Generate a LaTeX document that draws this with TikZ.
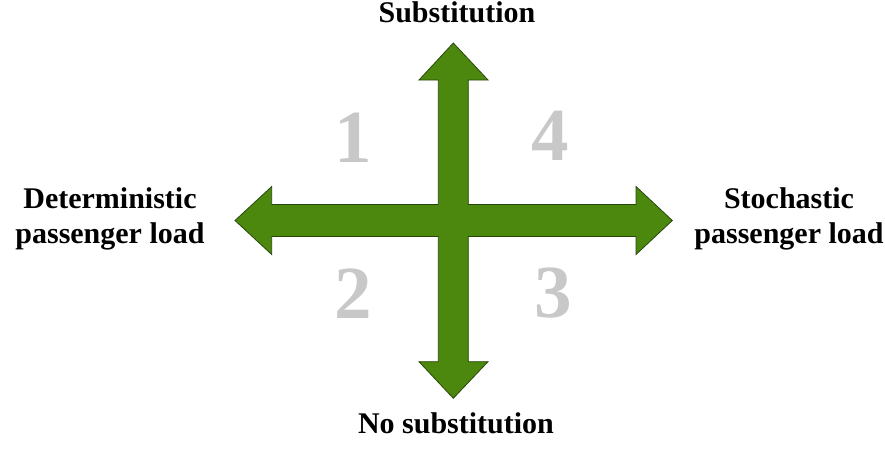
\documentclass[tikz,border=0pt]{standalone}
\usepackage{fontspec}
\setmainfont{Liberation Serif}
\definecolor{arrowgreen}{RGB}{76,136,14}
\definecolor{arrowedge}{RGB}{40,70,12}
\definecolor{numgray}{RGB}{200,200,200}
\begin{document}
\begin{tikzpicture}[x=1pt,y=-1pt,
  lbl/.style={font=\fontsize{30}{35}\selectfont\bfseries, align=center, inner sep=0pt},
  num/.style={font=\fontsize{75}{75}\selectfont\bfseries, text=numgray, anchor=base, inner sep=0pt},
  crossarrow/.style={fill=arrowgreen, draw=arrowedge, line width=0.8pt, line join=miter}]
\useasboundingbox (0,0) rectangle (885,450);
\coordinate (c) at (453.3,220.5);
\draw[crossarrow] (235,220.5) -- (271.7,186.5) -- (271.7,204.5) -- (438.3,204.5)
  -- (438.3,80) -- (419,80) -- (453.3,43) -- (488,80) -- (468.3,80) -- (468.3,204.5)
  -- (636,204.5) -- (636,186.5) -- (672.3,220.5) -- (636,254.5) -- (636,236.5)
  -- (468.3,236.5) -- (468.3,361.7) -- (488,361.7) -- (453.3,398.3) -- (419,361.7)
  -- (438.3,361.7) -- (438.3,236.5) -- (271.7,236.5) -- (271.7,254.5) -- cycle;
\node[lbl, anchor=base] (top) at (457,22) {Substitution};
\node[lbl, anchor=base] (bottom) at (456,433) {No substitution};
\node[lbl] (left) at (110,218.5) {Deterministic\\passenger load};
\node[lbl] (right) at (789,219) {Stochastic\\passenger load};
\node[num] (q1) at (353,162) {1};
\node[num] (q4) at (550,160) {4};
\node[num] (q2) at (353,318) {2};
\node[num] (q3) at (553,317) {3};
\end{tikzpicture}
\end{document}
